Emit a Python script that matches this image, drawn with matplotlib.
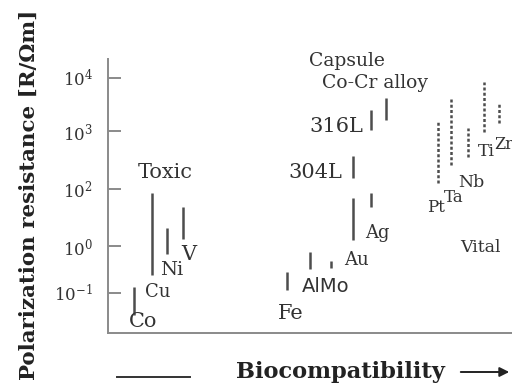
## plot.py - schematic of polarization resistance vs biocompatibility of metals
import matplotlib
matplotlib.use("Agg")
import matplotlib.pyplot as plt
from matplotlib.lines import Line2D

plt.rcParams['font.family'] = ['DejaVu Serif']
plt.rcParams['mathtext.fontset'] = 'dejavuserif'

TEXT = '#333333'
BAR = '#4d4d4d'
SPINE = '#8a8a8a'

## DATA (schematic levels: one unit is roughly one decade on the drawn axis)
tick_levels = [0.73, 1.58, 2.62, 3.67, 4.64]
tick_labels = [r'$10^{-1}$', r'$10^{0}$', r'$10^{2}$', r'$10^{3}$', r'$10^{4}$']

# solid ranges (toxic / capsule metals)
solid_names = ['Co', 'Cu', 'Ni', 'V', 'Fe', 'Al', 'Mo', 'Au', 'Ag', '304L', '316L', 'Co-Cr']
solid_x = [2.63, 4.43, 5.87, 7.47, 17.87, 20.2, 22.27, 24.47, 26.27, 24.47, 26.27, 27.8]
solid_low = [0.33, 1.06, 1.44, 1.71, 0.78, 1.16, 1.18, 1.69, 2.29, 2.82, 3.69, 3.87]
solid_high = [0.84, 2.55, 1.91, 2.29, 1.10, 1.48, 1.30, 2.46, 2.55, 3.21, 4.06, 4.27]

# dotted ranges (vital metals)
vital_names = ['Pt', 'Ta', 'Nb', 'Ti', 'Zr']
vital_x = [32.97, 34.3, 36.0, 37.6, 39.1]
vital_low = [2.73, 3.06, 3.20, 3.66, 3.82]
vital_high = [3.87, 4.27, 3.73, 4.56, 4.18]

# labels: text, x, y, size
labels = [
    ('Co', 3.5, 0.20, 15), ('Cu', 5.0, 0.75, 13), ('Ni', 6.4, 1.15, 14),
    ('V', 8.1, 1.42, 15), ('Toxic', 5.7, 2.91, 15),
    ('Fe', 18.3, 0.36, 15), ('Au', 24.8, 1.33, 13), ('Ag', 26.9, 1.82, 13),
    ('304L', 20.7, 2.91, 15), ('316L', 22.8, 3.75, 15),
    ('Co-Cr alloy', 26.7, 4.55, 13.5), ('Capsule', 23.9, 4.95, 13.5),
    ('Pt', 32.8, 2.29, 12), ('Ta', 34.6, 2.47, 12), ('Nb', 36.3, 2.73, 12.5),
    ('Ti', 37.8, 3.29, 12.5), ('Vital', 37.2, 1.56, 12.5),
]


def main():
    fig = plt.figure(figsize=(5.12, 3.91), dpi=100)
    ax = fig.add_axes([108 / 512, 58 / 391, 404 / 512, 274 / 391])
    ax.set_xlim(0, 40.4)
    ax.set_ylim(0, 4.98)

    for s in ['top', 'right']:
        ax.spines[s].set_visible(False)
    for s in ['left', 'bottom']:
        ax.spines[s].set_color(SPINE)
        ax.spines[s].set_linewidth(1.4)

    ax.set_xticks([])
    ax.set_yticks(tick_levels)
    ax.set_yticklabels(tick_labels)
    ax.tick_params(axis='y', direction='in', length=9, width=1.4, color=SPINE,
                   pad=11, labelsize=12, labelcolor=TEXT)

    ax.vlines(solid_x, solid_low, solid_high, color=BAR, lw=1.8)
    ax.vlines(vital_x, vital_low, vital_high, color=BAR, lw=1.8, linestyles=(0, (1.2, 0.9)))

    for txt, x, y, size in labels:
        ax.text(x, y, txt, ha='center', va='center', fontsize=size, color=TEXT, clip_on=False)
    ax.text(38.6, 3.42, 'Zr', ha='left', va='center', fontsize=11.5, color=TEXT, clip_on=False)
    ax.text(21.8, 0.84, 'AlMo', ha='center', va='center', fontsize=14,
            family='DejaVu Sans', color=TEXT, clip_on=False)

    # axis titles
    fig.text(29 / 512, 1 - 195 / 391, 'Polarization resistance [R/\u03a9m]', rotation=90,
             ha='center', va='center', fontsize=15.4, fontweight='bold', color='#222222')
    fig.text(340 / 512, 1 - 372 / 391, 'Biocompatibility', ha='center', va='center',
             fontsize=16.2, fontweight='bold', color='#222222')
    fig.add_artist(Line2D([117 / 512, 190 / 512], [1 - 377 / 391] * 2, color='#333333', lw=1.4))
    ax.annotate('', xy=(1.0, 1 - 372 / 391), xytext=(458 / 512, 1 - 372 / 391),
                xycoords='figure fraction', textcoords='figure fraction',
                arrowprops=dict(arrowstyle='-|>', lw=1.4, color='#222222', mutation_scale=14))

    fig.savefig('out.png', dpi=100)


if __name__ == "__main__":
    main()
